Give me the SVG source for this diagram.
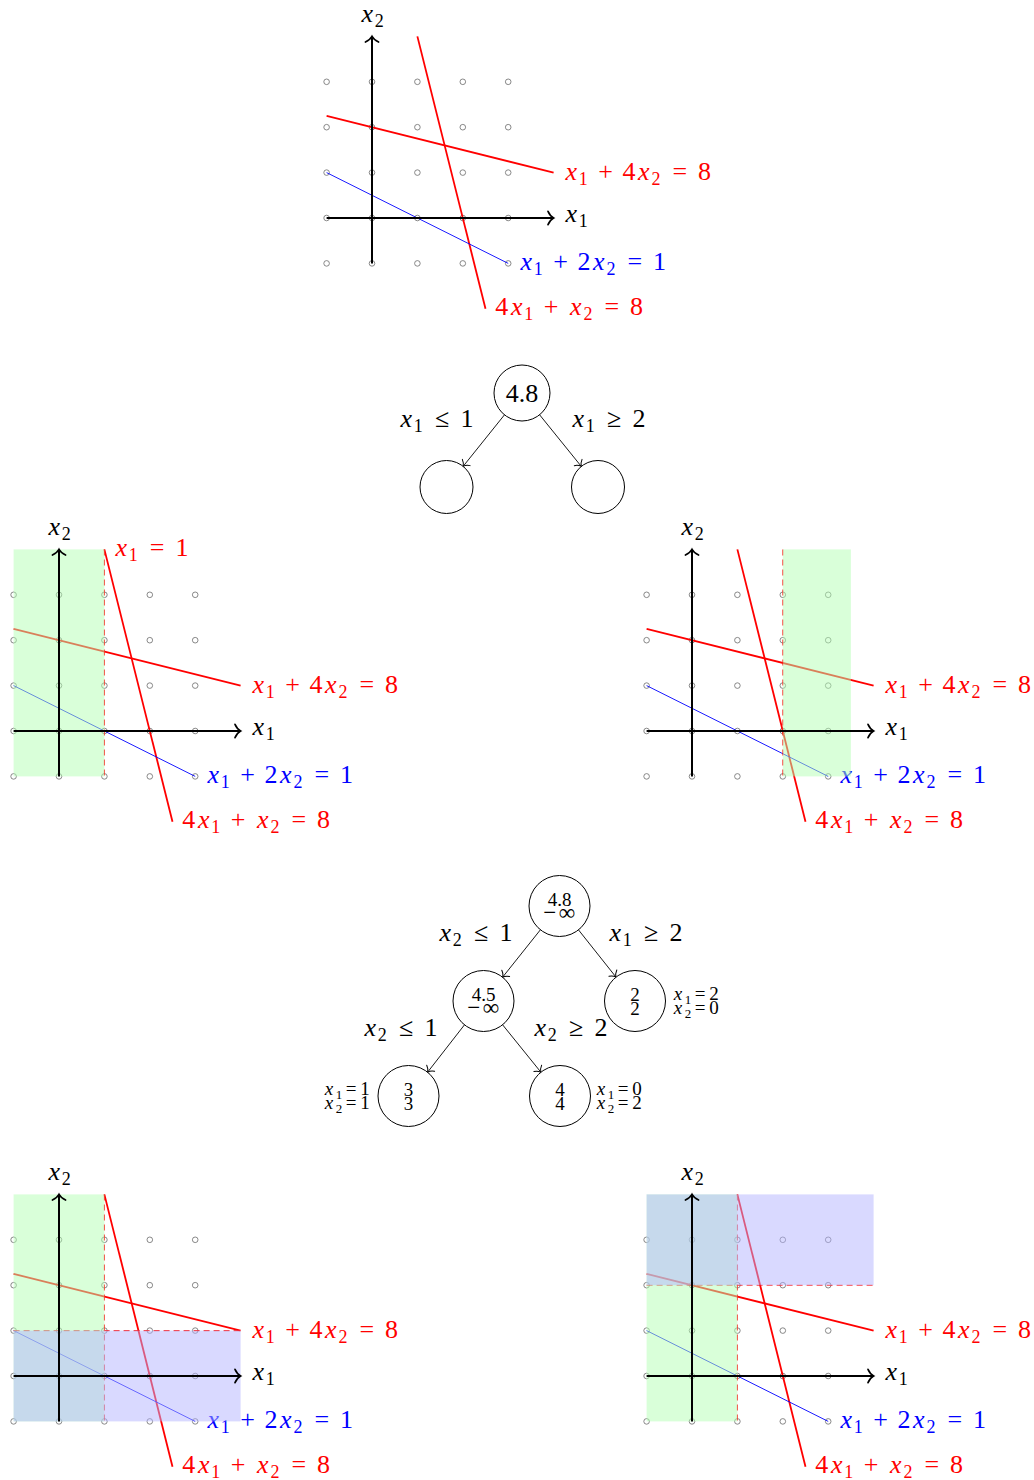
<svg xmlns="http://www.w3.org/2000/svg" width="1034" height="1480" viewBox="0 0 1034 1480">
<style>
.g{fill:none;stroke:#7a7a7a;stroke-width:0.9}
.rl{fill:none;stroke:#f00;stroke-width:1.8}
.bl{fill:none;stroke:#00f;stroke-width:0.9}
.dsh{fill:none;stroke:#f00;stroke-width:1.1;stroke-dasharray:6 4;stroke-opacity:0.8}
.ax{fill:none;stroke:#000;stroke-width:2;marker-end:url(#arA)}
.t{font-family:'Liberation Serif','Times New Roman',serif;font-size:26px;fill:#000}
.sm{font-family:'Liberation Serif','Times New Roman',serif;font-size:19px;fill:#000}
.i{font-style:italic}
.s{font-size:18px}
.ss{font-size:13px}
.big{font-size:23px}
.red{fill:#f00}
.blue{fill:#00f}
.gf{fill:#b3ffb3;fill-opacity:0.5}
.bf{fill:#b3b3ff;fill-opacity:0.5}
.node{fill:#fff;stroke:#000;stroke-width:1}
.edge{fill:none;stroke:#000;stroke-width:0.9;marker-end:url(#arT)}
</style>
<defs>
<marker id="arA" markerUnits="userSpaceOnUse" markerWidth="20" markerHeight="20" refX="0" refY="0" orient="auto" style="overflow:visible">
<path d="M-5.6,-6.6 C-4,-3 -1.5,-0.8 0,0 C-1.5,0.8 -4,3 -5.6,6.6" fill="none" stroke="#000" stroke-width="1.7" stroke-linecap="round"/>
</marker>
<marker id="arT" markerUnits="userSpaceOnUse" markerWidth="14" markerHeight="14" refX="0" refY="0" orient="auto" style="overflow:visible">
<path d="M-5,-5 C-3.6,-2.3 -1.4,-0.6 0,0 C-1.4,0.6 -3.6,2.3 -5,5" fill="none" stroke="#000" stroke-width="1" stroke-linecap="round"/>
</marker>
<g id="plotBase">
<g id="gridpts">
<circle class="g" cx="-45.4" cy="-136.2" r="2.8"/><circle class="g" cx="0" cy="-136.2" r="2.8"/><circle class="g" cx="45.4" cy="-136.2" r="2.8"/><circle class="g" cx="90.8" cy="-136.2" r="2.8"/><circle class="g" cx="136.2" cy="-136.2" r="2.8"/>
<circle class="g" cx="-45.4" cy="-90.8" r="2.8"/><circle class="g" cx="0" cy="-90.8" r="2.8"/><circle class="g" cx="45.4" cy="-90.8" r="2.8"/><circle class="g" cx="90.8" cy="-90.8" r="2.8"/><circle class="g" cx="136.2" cy="-90.8" r="2.8"/>
<circle class="g" cx="-45.4" cy="-45.4" r="2.8"/><circle class="g" cx="0" cy="-45.4" r="2.8"/><circle class="g" cx="45.4" cy="-45.4" r="2.8"/><circle class="g" cx="90.8" cy="-45.4" r="2.8"/><circle class="g" cx="136.2" cy="-45.4" r="2.8"/>
<circle class="g" cx="-45.4" cy="0" r="2.8"/><circle class="g" cx="0" cy="0" r="2.8"/><circle class="g" cx="45.4" cy="0" r="2.8"/><circle class="g" cx="90.8" cy="0" r="2.8"/><circle class="g" cx="136.2" cy="0" r="2.8"/>
<circle class="g" cx="-45.4" cy="45.4" r="2.8"/><circle class="g" cx="0" cy="45.4" r="2.8"/><circle class="g" cx="45.4" cy="45.4" r="2.8"/><circle class="g" cx="90.8" cy="45.4" r="2.8"/><circle class="g" cx="136.2" cy="45.4" r="2.8"/>
</g>
<path class="rl" d="M-45.4,-102.15 L181.6,-45.4"/>
<path class="rl" d="M45.4,-181.6 L113.5,90.8"/>
<path class="bl" d="M-45.4,-45.4 L136.2,45.4"/>
<text class="t red" text-anchor="middle" y="-38"><tspan class="i" x="199.2">x</tspan><tspan class="s" x="211.3" y="-33">1</tspan><tspan x="233.65" y="-38">+</tspan><tspan x="256.9">4</tspan><tspan class="i" x="271.85">x</tspan><tspan class="s" x="283.9" y="-33">2</tspan><tspan x="307.8" y="-38">=</tspan><tspan x="332.55">8</tspan></text>
<text class="t blue" text-anchor="middle" y="52"><tspan class="i" x="154.2">x</tspan><tspan class="s" x="166.3" y="57">1</tspan><tspan x="188.65" y="52">+</tspan><tspan x="211.9">2</tspan><tspan class="i" x="226.85">x</tspan><tspan class="s" x="238.9" y="57">2</tspan><tspan x="262.8" y="52">=</tspan><tspan x="287.55">1</tspan></text>
<text class="t red" text-anchor="middle" y="97"><tspan x="129.75">4</tspan><tspan class="i" x="144.7">x</tspan><tspan class="s" x="156.8" y="102">1</tspan><tspan x="179.15" y="97">+</tspan><tspan class="i" x="203.85">x</tspan><tspan class="s" x="215.9" y="102">2</tspan><tspan x="239.8" y="97">=</tspan><tspan x="264.55">8</tspan></text>
</g>
<g id="plotAxes">
<path class="ax" d="M-45.4,0 H181.6"/>
<path class="ax" d="M0,45.4 V-181.6"/>
<text class="t" text-anchor="middle" y="4"><tspan class="i" x="199.2">x</tspan><tspan class="s" x="211.3" y="9">1</tspan></text>
<text class="t" text-anchor="middle" y="-196"><tspan class="i" x="-4.8">x</tspan><tspan class="s" x="7.3" y="-191">2</tspan></text>
</g>
</defs>

<g id="plot-top" transform="translate(372,218)">
<use href="#plotBase"/>
<use href="#plotAxes"/>
</g>

<g id="plot-mid-left" transform="translate(59,731)">
<use href="#plotBase"/>
<path class="dsh" d="M45.4,-181.6 V45.4"/>
<rect class="gf" x="-45.4" y="-181.6" width="90.8" height="227"/>
<text class="t red" text-anchor="middle" y="-175"><tspan class="i" x="62.2">x</tspan><tspan class="s" x="74.3" y="-170">1</tspan><tspan x="98.15" y="-175">=</tspan><tspan x="122.9">1</tspan></text>
<use href="#plotAxes"/>
</g>

<g id="plot-mid-right" transform="translate(692,731)">
<use href="#plotBase"/>
<path class="dsh" d="M90.8,-181.6 V45.4"/>
<rect class="gf" x="90.8" y="-181.6" width="68.1" height="227"/>
<use href="#plotAxes"/>
</g>

<g id="plot-bot-left" transform="translate(59,1376)">
<use href="#plotBase"/>
<path class="dsh" d="M45.4,-181.6 V45.4"/>
<path class="dsh" d="M-45.4,-45.4 H181.6"/>
<rect class="gf" x="-45.4" y="-181.6" width="90.8" height="227"/>
<rect class="bf" x="-45.4" y="-45.4" width="227" height="90.8"/>
<use href="#plotAxes"/>
</g>

<g id="plot-bot-right" transform="translate(692,1376)">
<use href="#plotBase"/>
<path class="dsh" d="M45.4,-181.6 V45.4"/>
<path class="dsh" d="M-45.4,-90.8 H181.6"/>
<rect class="gf" x="-45.4" y="-181.6" width="90.8" height="227"/>
<rect class="bf" x="-45.4" y="-181.6" width="227" height="90.8"/>
<use href="#plotAxes"/>
</g>

<g id="connectors">
<path class="edge" d="M504.5,414.8 L463.1,466.4"/>
<path class="edge" d="M539.6,414.8 L581.3,466.4"/>
<path class="edge" d="M540.4,929.8 L502.6,977.2"/>
<path class="edge" d="M578.5,929.9 L616,977.1"/>
<path class="edge" d="M464.5,1024.8 L427.6,1072.2"/>
<path class="edge" d="M502.6,1024.8 L540.9,1072.2"/>
</g>

<g id="edge-labels">
<text class="t" text-anchor="middle" y="427"><tspan class="i" x="406.2">x</tspan><tspan class="s" x="418.3" y="432">1</tspan><tspan x="442.15" y="427">≤</tspan><tspan x="466.9">1</tspan></text>
<text class="t" text-anchor="middle" y="427"><tspan class="i" x="578.2">x</tspan><tspan class="s" x="590.3" y="432">1</tspan><tspan x="614.15" y="427">≥</tspan><tspan x="638.9">2</tspan></text>
<text class="t" text-anchor="middle" y="941"><tspan class="i" x="445.2">x</tspan><tspan class="s" x="457.3" y="946">2</tspan><tspan x="481.15" y="941">≤</tspan><tspan x="505.9">1</tspan></text>
<text class="t" text-anchor="middle" y="941"><tspan class="i" x="615.2">x</tspan><tspan class="s" x="627.3" y="946">1</tspan><tspan x="651.15" y="941">≥</tspan><tspan x="675.9">2</tspan></text>
<text class="t" text-anchor="middle" y="1036"><tspan class="i" x="370.2">x</tspan><tspan class="s" x="382.3" y="1041">2</tspan><tspan x="406.15" y="1036">≤</tspan><tspan x="430.9">1</tspan></text>
<text class="t" text-anchor="middle" y="1036"><tspan class="i" x="540.2">x</tspan><tspan class="s" x="552.3" y="1041">2</tspan><tspan x="576.15" y="1036">≥</tspan><tspan x="600.9">2</tspan></text>
</g>

<g id="t1-root">
<circle class="node" cx="522" cy="393" r="28"/>
<text class="t" x="522" y="402" text-anchor="middle">4.8</text>
</g>
<g id="t1-left"><circle class="node" cx="446.5" cy="487" r="26.5"/></g>
<g id="t1-right"><circle class="node" cx="598" cy="487" r="26.5"/></g>

<g id="t2-root">
<circle class="node" cx="559.5" cy="906" r="30.5"/>
<text class="sm" text-anchor="middle"><tspan x="559.5" y="905.5">4.8</tspan><tspan class="big" x="549.75" y="919.5">−</tspan><tspan class="big" x="567" y="919.5">∞</tspan></text>
</g>
<g id="t2-left">
<circle class="node" cx="483.5" cy="1001" r="30.5"/>
<text class="sm" text-anchor="middle"><tspan x="483.5" y="1000.5">4.5</tspan><tspan class="big" x="473.75" y="1014.5">−</tspan><tspan class="big" x="491" y="1014.5">∞</tspan></text>
</g>
<g id="t2-right">
<circle class="node" cx="635" cy="1001" r="30.5"/>
<text class="sm" text-anchor="middle"><tspan x="635" y="1000.5">2</tspan><tspan x="635" y="1014.5">2</tspan></text>
<text class="sm" text-anchor="middle"><tspan class="i" x="678" y="1000">x</tspan><tspan class="ss" x="688" y="1003.5">1</tspan><tspan x="700" y="1000">=</tspan><tspan x="714">2</tspan><tspan class="i" x="678" y="1014">x</tspan><tspan class="ss" x="688" y="1017.5">2</tspan><tspan x="700" y="1014">=</tspan><tspan x="714">0</tspan></text>
</g>
<g id="t2-ll">
<circle class="node" cx="408.5" cy="1096" r="30.5"/>
<text class="sm" text-anchor="middle"><tspan x="408.5" y="1095.5">3</tspan><tspan x="408.5" y="1109.5">3</tspan></text>
<text class="sm" text-anchor="middle"><tspan class="i" x="329" y="1095">x</tspan><tspan class="ss" x="339" y="1098.5">1</tspan><tspan x="351" y="1095">=</tspan><tspan x="365">1</tspan><tspan class="i" x="329" y="1109">x</tspan><tspan class="ss" x="339" y="1112.5">2</tspan><tspan x="351" y="1109">=</tspan><tspan x="365">1</tspan></text>
</g>
<g id="t2-lr">
<circle class="node" cx="560" cy="1096" r="30.5"/>
<text class="sm" text-anchor="middle"><tspan x="560" y="1095.5">4</tspan><tspan x="560" y="1109.5">4</tspan></text>
<text class="sm" text-anchor="middle"><tspan class="i" x="601" y="1095">x</tspan><tspan class="ss" x="611" y="1098.5">1</tspan><tspan x="623" y="1095">=</tspan><tspan x="637">0</tspan><tspan class="i" x="601" y="1109">x</tspan><tspan class="ss" x="611" y="1112.5">2</tspan><tspan x="623" y="1109">=</tspan><tspan x="637">2</tspan></text>
</g>
</svg>
